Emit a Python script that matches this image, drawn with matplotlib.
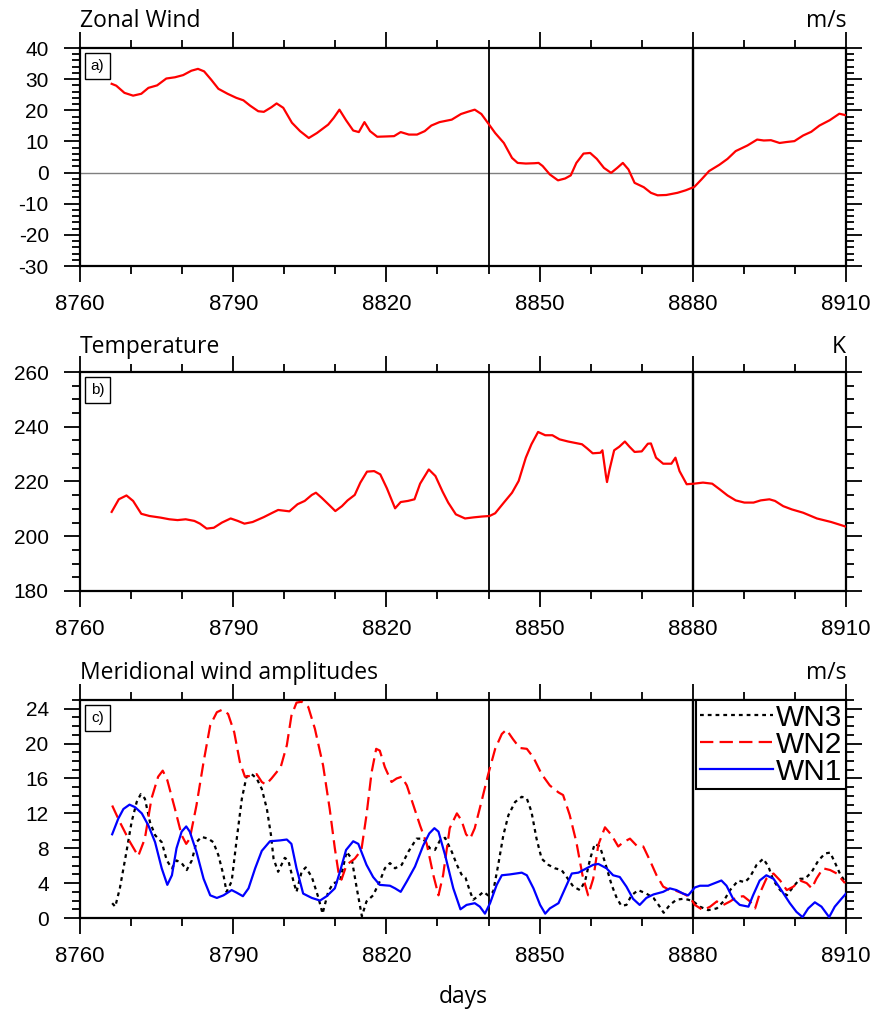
import matplotlib
matplotlib.use("Agg")
import matplotlib.pyplot as plt
from matplotlib.ticker import MultipleLocator

plt.rcParams['font.family'] = ['Liberation Sans', 'DejaVu Sans']
plt.rcParams['axes.unicode_minus'] = False

# ---------------- data ----------------
zonal_days = [8766.2, 8767.1, 8768.7, 8770.4, 8772.0, 8773.4, 8775.1, 8776.9, 8778.6, 8780.2,
              8781.8, 8783.1, 8784.3, 8785.7, 8787.1, 8788.9, 8790.6, 8792.0, 8793.3, 8794.9,
              8796.0, 8797.5, 8798.5, 8799.8, 8801.5, 8803.1, 8804.8, 8806.4, 8808.6, 8809.7,
              8810.8, 8812.1, 8813.5, 8814.6, 8815.7, 8816.8, 8818.2, 8820.0, 8821.5, 8822.8,
              8824.4, 8826.0, 8827.5, 8828.8, 8830.4, 8832.8, 8834.6, 8835.9, 8837.3, 8838.6,
              8840.2, 8841.3, 8843.0, 8844.6, 8845.7, 8847.3, 8849.0, 8849.8, 8850.6, 8852.0,
              8853.6, 8855.0, 8856.1, 8857.2, 8858.6, 8859.9, 8861.2, 8862.6, 8864.0, 8865.2,
              8866.3, 8867.4, 8868.6, 8870.4, 8871.8, 8873.1, 8874.8, 8877.0, 8878.6, 8880.3,
              8881.7, 8883.2, 8885.2, 8886.8, 8888.4, 8890.7, 8892.6, 8893.9, 8895.3, 8897.0,
              8898.3, 8899.9, 8901.6, 8903.2, 8904.8, 8906.8, 8908.7, 8910.0]
zonal_wind = [28.5, 27.9, 25.6, 24.7, 25.3, 27.2, 28.0, 30.2, 30.6, 31.3,
              32.7, 33.3, 32.5, 29.8, 26.9, 25.3, 24.0, 23.2, 21.5, 19.7,
              19.5, 21.0, 22.2, 20.8, 16.0, 13.3, 11.1, 12.7, 15.4, 17.6,
              20.2, 16.8, 13.5, 13.0, 16.2, 13.3, 11.5, 11.6, 11.7, 13.0,
              12.2, 12.2, 13.3, 15.1, 16.2, 17.0, 18.8, 19.5, 20.2, 18.8,
              15.2, 12.7, 9.5, 4.7, 3.1, 2.9, 3.0, 3.1, 2.1, -0.6,
              -2.5, -1.9, -0.9, 3.1, 6.1, 6.3, 4.4, 1.5, -0.1, 1.5,
              3.1, 1.0, -3.3, -4.7, -6.5, -7.3, -7.2, -6.5, -5.7, -4.6,
              -2.2, 0.5, 2.5, 4.4, 6.9, 8.7, 10.6, 10.3, 10.4, 9.5,
              9.8, 10.1, 11.9, 13.1, 15.1, 16.8, 18.9, 18.4]

temp_days = [8766.2, 8767.6, 8769.1, 8770.4, 8772.0, 8773.6, 8775.8, 8777.5, 8779.1, 8780.7,
             8782.4, 8783.5, 8784.8, 8786.2, 8787.8, 8789.5, 8790.9, 8792.2, 8793.8, 8796.0,
             8797.7, 8798.8, 8801.0, 8802.6, 8804.0, 8805.4, 8806.2, 8807.3, 8808.8, 8810.0,
             8811.3, 8812.4, 8813.8, 8814.9, 8816.2, 8817.6, 8818.8, 8820.1, 8821.7, 8822.8,
             8824.2, 8825.5, 8826.6, 8828.3, 8829.6, 8831.0, 8832.1, 8833.6, 8835.4, 8837.1,
             8838.7, 8840.2, 8841.3, 8843.0, 8844.6, 8845.9, 8847.3, 8848.4, 8849.7, 8851.1,
             8852.5, 8853.9, 8855.6, 8858.3, 8859.3, 8860.4, 8861.9, 8862.3, 8863.0, 8863.2,
             8863.7, 8864.6, 8865.6, 8866.7, 8867.6, 8868.6, 8870.0, 8871.2, 8871.8, 8872.8,
             8874.2, 8875.8, 8876.6, 8877.4, 8878.8, 8880.2, 8882.0, 8883.8, 8885.3, 8886.8,
             8888.4, 8890.1, 8891.9, 8893.3, 8895.0, 8896.1, 8897.7, 8899.4, 8901.6, 8904.3,
             8907.1, 8910.0]
temperature = [208.9, 213.5, 214.9, 212.9, 208.2, 207.4, 206.8, 206.2, 205.9, 206.2,
               205.6, 204.6, 202.8, 203.1, 205.0, 206.5, 205.6, 204.6, 205.2, 207.0,
               208.6, 209.6, 209.1, 211.7, 212.9, 215.1, 215.9, 214.1, 211.4, 209.2,
               211.0, 213.1, 215.1, 219.6, 223.6, 223.8, 222.6, 217.5, 210.2, 212.5,
               212.9, 213.5, 219.2, 224.4, 222.0, 216.3, 212.3, 208.0, 206.5, 206.9,
               207.2, 207.4, 208.4, 212.3, 215.9, 220.2, 228.7, 233.6, 238.1, 236.9,
               236.9, 235.4, 234.6, 233.6, 232.1, 230.3, 230.5, 231.4, 222.0, 219.8,
               224.4, 231.4, 232.7, 234.6, 232.7, 230.8, 231.0, 233.8, 233.9, 228.7,
               226.5, 226.5, 228.7, 223.8, 219.0, 219.2, 219.6, 219.2, 217.1, 214.9,
               213.1, 212.3, 212.3, 213.1, 213.5, 212.9, 211.0, 209.8, 208.6, 206.5,
               205.2, 203.5]

wn2_days = [8766.3, 8767.8, 8769.8, 8771.4, 8772.7, 8774.0, 8775.3, 8776.2, 8777.1, 8778.6,
            8779.9, 8780.8, 8781.5, 8782.8, 8784.2, 8785.5, 8786.8, 8787.9, 8789.0, 8790.2,
            8791.3, 8792.3, 8793.3, 8794.6, 8795.6, 8796.4, 8797.5, 8799.3, 8800.5, 8801.4,
            8802.4, 8803.4, 8804.7, 8806.0, 8807.6, 8808.9, 8809.9, 8810.6, 8811.2, 8812.2,
            8813.8, 8815.1, 8816.1, 8817.1, 8818.0, 8818.7, 8819.7, 8821.0, 8822.0, 8823.0,
            8824.0, 8825.3, 8826.6, 8827.9, 8829.2, 8830.2, 8831.1, 8832.4, 8833.8, 8834.7,
            8835.6, 8836.4, 8837.3, 8838.6, 8839.9, 8841.3, 8842.6, 8843.5, 8844.8, 8846.1,
            8847.5, 8848.8, 8850.4, 8852.0, 8853.7, 8854.6, 8855.9, 8857.2, 8858.4, 8859.5,
            8860.5, 8861.5, 8862.8, 8864.1, 8865.4, 8866.4, 8867.7, 8869.0, 8870.3, 8871.6,
            8872.9, 8874.2, 8875.5, 8876.8, 8878.1, 8879.4, 8880.4, 8882.0, 8883.4, 8884.7,
            8886.0, 8887.3, 8888.6, 8889.9, 8891.2, 8892.2, 8893.1, 8894.4, 8895.8, 8897.1,
            8898.4, 8899.7, 8901.0, 8902.3, 8903.3, 8904.2, 8905.5, 8906.9, 8908.2, 8909.8]
wn2 = [12.9, 11.0, 8.7, 7.1, 9.1, 13.7, 16.2, 16.9, 15.8, 12.5,
       9.5, 8.5, 9.1, 12.9, 17.9, 22.1, 23.6, 23.9, 23.4, 21.3,
       17.9, 16.2, 16.3, 16.5, 15.6, 15.3, 16.0, 17.3, 19.8, 23.2,
       24.7, 24.8, 24.2, 21.7, 17.5, 12.5, 8.0, 5.3, 4.4, 6.1,
       6.8, 7.8, 11.8, 16.7, 19.4, 19.2, 17.3, 15.6, 16.0, 16.2,
       15.2, 12.9, 10.6, 8.5, 4.9, 2.6, 4.9, 10.3, 12.0, 11.2,
       9.6, 9.1, 10.3, 13.3, 16.4, 19.4, 21.1, 21.6, 20.5, 19.5,
       19.4, 18.4, 16.5, 15.2, 14.4, 14.1, 11.8, 8.7, 4.9, 2.6,
       4.5, 8.4, 10.4, 9.5, 8.2, 8.7, 9.1, 8.3, 8.2, 6.6,
       4.9, 3.6, 3.2, 3.1, 2.8, 2.4, 1.5, 0.9, 1.3, 1.9,
       1.5, 1.9, 2.4, 2.5, 1.9, 1.1, 2.8, 4.5, 5.1, 4.3,
       3.2, 3.6, 4.3, 4.0, 3.4, 4.5, 5.7, 5.5, 5.1, 4.0]

wn1_days = [8766.3, 8767.5, 8768.5, 8769.7, 8770.8, 8772.1, 8773.4, 8774.7, 8776.0, 8777.1,
            8778.0, 8778.9, 8779.9, 8780.8, 8781.5, 8782.8, 8784.2, 8785.5, 8786.8, 8788.1,
            8789.7, 8790.7, 8791.9, 8793.0, 8794.3, 8795.6, 8797.2, 8799.2, 8800.5, 8801.4,
            8802.4, 8803.7, 8805.4, 8807.0, 8808.3, 8809.9, 8810.9, 8812.1, 8813.5, 8814.5,
            8816.1, 8817.4, 8818.7, 8820.7, 8821.7, 8822.8, 8824.0, 8825.6, 8827.2, 8828.4,
            8829.4, 8830.2, 8831.5, 8833.1, 8834.5, 8835.7, 8837.3, 8838.3, 8839.3, 8840.3,
            8841.6, 8842.6, 8844.2, 8846.5, 8847.5, 8848.8, 8850.1, 8851.1, 8852.0, 8853.7,
            8855.0, 8856.3, 8857.6, 8859.2, 8860.5, 8861.5, 8863.1, 8864.4, 8865.7, 8867.0,
            8868.3, 8869.6, 8870.9, 8872.3, 8874.2, 8875.5, 8876.8, 8878.1, 8879.1, 8880.4,
            8881.4, 8883.0, 8884.3, 8885.6, 8886.6, 8887.9, 8889.2, 8890.9, 8891.8, 8893.1,
            8894.4, 8895.8, 8897.1, 8899.0, 8900.3, 8901.5, 8902.6, 8903.9, 8905.2, 8906.7,
            8907.8, 8909.1, 8910.0]
wn1 = [9.6, 11.4, 12.5, 13.0, 12.7, 12.0, 10.6, 8.7, 5.7, 3.8,
       4.9, 8.0, 9.9, 10.5, 9.9, 7.6, 4.5, 2.6, 2.3, 2.6,
       3.2, 2.9, 2.5, 3.4, 5.7, 7.7, 8.8, 8.9, 9.0, 8.5,
       5.7, 2.8, 2.3, 2.0, 2.5, 3.4, 5.3, 7.8, 8.8, 8.5,
       6.1, 4.7, 3.8, 3.7, 3.4, 3.0, 4.2, 5.9, 8.3, 9.7,
       10.3, 9.9, 7.2, 3.4, 1.0, 1.5, 1.7, 1.3, 0.5, 1.7,
       3.8, 4.9, 5.0, 5.2, 4.9, 3.4, 1.5, 0.5, 1.1, 1.7,
       3.4, 5.1, 5.2, 5.7, 6.1, 6.2, 5.7, 4.9, 4.7, 3.6,
       2.2, 1.5, 2.3, 2.7, 3.0, 3.4, 3.2, 2.8, 2.6, 3.5,
       3.7, 3.7, 4.0, 4.3, 3.7, 2.2, 1.5, 1.3, 2.6, 4.3,
       4.9, 4.5, 3.4, 1.7, 0.7, 0.1, 1.1, 1.8, 1.3, 0.1,
       1.3, 2.2, 2.8]

wn3_days = [8766.3, 8766.9, 8767.8, 8769.1, 8770.1, 8771.1, 8771.9, 8772.7, 8773.7, 8774.7,
            8776.0, 8777.0, 8778.0, 8778.9, 8779.9, 8780.9, 8781.9, 8782.8, 8783.8, 8785.1,
            8786.1, 8787.1, 8788.1, 8788.7, 8789.7, 8790.7, 8791.7, 8792.6, 8793.6, 8794.6,
            8795.6, 8796.6, 8797.4, 8797.9, 8798.8, 8800.1, 8800.8, 8801.8, 8802.4, 8803.4,
            8804.2, 8805.4, 8806.7, 8807.5, 8808.6, 8809.6, 8810.9, 8812.2, 8813.2, 8814.2,
            8815.2, 8816.1, 8817.4, 8818.7, 8819.7, 8820.7, 8821.7, 8823.0, 8824.3, 8825.9,
            8827.2, 8828.5, 8829.5, 8830.5, 8831.5, 8832.8, 8833.8, 8834.7, 8835.5, 8836.4,
            8837.0, 8838.0, 8839.0, 8839.9, 8840.9, 8841.9, 8842.9, 8843.9, 8845.2, 8846.5,
            8847.5, 8848.4, 8849.4, 8850.4, 8851.7, 8853.0, 8854.3, 8855.3, 8856.6, 8857.9,
            8858.9, 8859.9, 8860.8, 8861.8, 8862.8, 8864.1, 8865.1, 8866.0, 8867.0, 8868.0,
            8869.3, 8870.9, 8872.3, 8873.3, 8874.3, 8875.5, 8876.8, 8878.1, 8879.1, 8880.1,
            8881.4, 8883.0, 8884.7, 8886.0, 8887.3, 8888.9, 8890.2, 8891.2, 8892.5, 8893.8,
            8894.8, 8895.8, 8897.1, 8898.4, 8899.7, 8901.0, 8902.0, 8903.3, 8904.6, 8905.9,
            8906.9, 8907.8, 8908.8, 8910.0]
wn3 = [1.7, 1.3, 3.4, 7.6, 11.0, 13.3, 14.2, 13.7, 11.0, 9.5,
       8.7, 6.6, 5.7, 6.6, 6.3, 5.5, 6.6, 8.7, 9.3, 9.1,
       8.7, 7.2, 4.9, 3.0, 4.2, 9.1, 13.7, 16.2, 16.5, 16.0,
       14.8, 12.5, 9.5, 6.8, 5.3, 6.9, 6.6, 4.2, 3.0, 5.3,
       5.8, 4.7, 2.3, 0.5, 3.0, 4.0, 4.2, 7.6, 6.8, 3.4,
       0.2, 1.9, 2.6, 4.2, 5.7, 6.3, 5.7, 6.1, 7.6, 9.1,
       9.1, 8.0, 7.8, 8.9, 9.2, 7.6, 6.1, 5.0, 4.6, 3.0,
       2.1, 2.5, 3.0, 2.6, 3.0, 6.1, 9.5, 11.8, 13.3, 13.9,
       13.7, 12.2, 9.1, 6.8, 6.1, 5.7, 5.5, 4.7, 3.6, 3.2,
       4.2, 6.8, 8.5, 8.2, 6.4, 3.8, 2.3, 1.4, 1.5, 2.6,
       3.2, 2.8, 2.3, 1.5, 0.6, 1.5, 2.1, 2.2, 2.1, 1.9,
       1.3, 0.9, 1.1, 1.9, 3.2, 4.3, 4.1, 4.7, 6.1, 6.8,
       5.9, 4.3, 3.2, 2.6, 3.6, 4.5, 4.5, 5.3, 6.6, 7.4,
       7.5, 6.4, 5.1, 4.0]

event_days = [8840, 8880]
x_ticks_major = 30
x_ticks_minor = 10

# ---------------- figure ----------------
fig = plt.figure(figsize=(8.73, 10.10), dpi=100)
FW, FH = 873.0, 1010.0


def rect(top, bottom, left=80, right=846):
    return [left / FW, 1 - bottom / FH, (right - left) / FW, (bottom - top) / FH]


axa = fig.add_axes(rect(48, 266))
axb = fig.add_axes(rect(372, 591))
axc = fig.add_axes(rect(700, 918))

TITLE_FONT = ['Open Sans', 'DejaVu Sans']


def style(ax, ylim, ymaj, ymin, title, units, tag, title_off):
    ax.set_xlim(8760, 8910)
    ax.set_ylim(*ylim)
    ax.xaxis.set_major_locator(MultipleLocator(x_ticks_major))
    ax.xaxis.set_minor_locator(MultipleLocator(x_ticks_minor))
    ax.yaxis.set_major_locator(MultipleLocator(ymaj))
    ax.yaxis.set_minor_locator(MultipleLocator(ymin))
    ax.tick_params(which='both', direction='out', top=True, right=True,
                   bottom=True, left=True, width=1.3, color='black')
    ax.tick_params(which='major', length=11.5)
    ax.tick_params(which='minor', length=5.8)
    ax.tick_params(axis='x', labelsize=16, pad=9)
    ax.tick_params(axis='y', labelsize=15, pad=11)
    for s in ax.spines.values():
        s.set_linewidth(1.6)
    ax.text(0, 1 + title_off, title, transform=ax.transAxes, ha='left',
            va='baseline', fontsize=16.5, family=TITLE_FONT)
    ax.text(1, 1 + title_off, units, transform=ax.transAxes, ha='right',
            va='baseline', fontsize=16.5, family=TITLE_FONT)
    ax.text(0.0228, 0.917, tag, transform=ax.transAxes, ha='center', va='center',
            fontsize=11, zorder=6,
            bbox=dict(boxstyle='square,pad=0.38', fc='white', ec='black', lw=1.0))
    ax.axvline(event_days[0], color='black', lw=1.3, zorder=3)
    ax.axvline(event_days[1], color='black', lw=1.7, zorder=3)


# panel a
style(axa, (-30, 40), 10, 2, 'Zonal Wind', 'm/s', 'a)', 0.096)
axa.axhline(0, color='#7f7f7f', lw=1.0, zorder=1)
axa.plot(zonal_days, zonal_wind, color='red', lw=1.6, zorder=4)

# panel b
style(axb, (180, 260), 20, 5, 'Temperature', 'K', 'b)', 0.088)
axb.plot(temp_days, temperature, color='red', lw=1.6, zorder=4)

# panel c
style(axc, (0, 25), 4, 1, 'Meridional wind amplitudes', 'm/s', 'c)', 0.096)
l3, = axc.plot(wn3_days, wn3, color='black', lw=1.6, dashes=(1.7, 1.8), zorder=4, label='WN3')
l2, = axc.plot(wn2_days, wn2, color='red', lw=1.6, dashes=(6.0, 2.8), zorder=4, label='WN2')
l1, = axc.plot(wn1_days, wn1, color='blue', lw=1.6, zorder=4, label='WN1')
leg = axc.legend(handles=[l3, l2, l1], loc='upper right', bbox_to_anchor=(1, 1),
                 borderaxespad=0, fancybox=False, edgecolor='black', framealpha=1,
                 prop={'family': ['Liberation Sans', 'DejaVu Sans'], 'size': 21.5},
                 handlelength=2.45, handletextpad=0.1, labelspacing=-0.03,
                 borderpad=0.12)
leg.get_frame().set_linewidth(1.5)
leg.set_zorder(7)
axc.text(0.5, -(1003 - 918) / 218.0, 'days', transform=axc.transAxes, ha='center',
         va='baseline', fontsize=16.5, family=TITLE_FONT)

fig.savefig('out.png', dpi=100)
